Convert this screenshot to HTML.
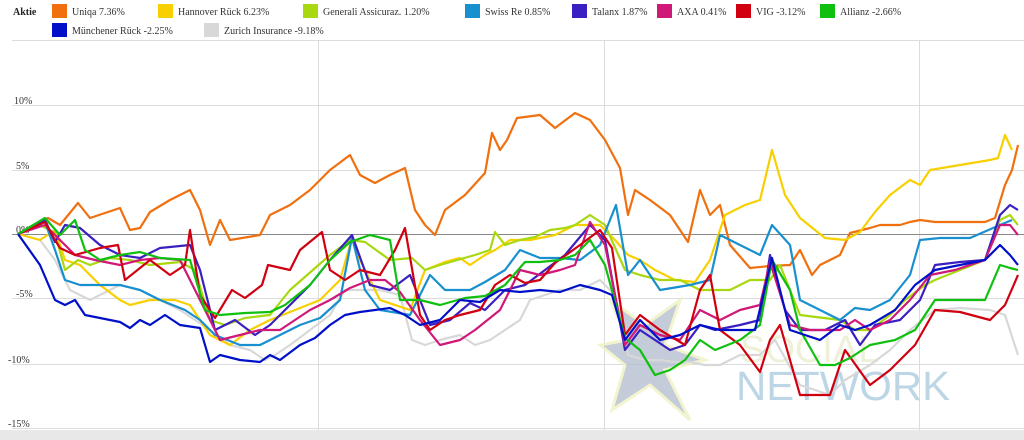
<!DOCTYPE html>
<html><head><meta charset="utf-8"><style>
html,body{margin:0;padding:0;background:#fff;width:1024px;height:440px;overflow:hidden}
</style></head><body>
<svg width="1024" height="440" xmlns="http://www.w3.org/2000/svg" style="font-family:'Liberation Serif',serif">
<rect x="0" y="430" width="1024" height="10" fill="#e8e8e8"/>
<g stroke="#dcdcdc" stroke-width="1">
<line x1="12" y1="40.5" x2="1024" y2="40.5"/>
<line x1="12" y1="105.5" x2="1024" y2="105.5"/>
<line x1="12" y1="170.5" x2="1024" y2="170.5"/>
<line x1="12" y1="298.5" x2="1024" y2="298.5"/>
<line x1="12" y1="364.5" x2="1024" y2="364.5"/>
<line x1="12" y1="428.5" x2="1024" y2="428.5"/>
<line x1="318.5" y1="40" x2="318.5" y2="430"/>
<line x1="604.5" y1="40" x2="604.5" y2="430"/>
<line x1="919.5" y1="40" x2="919.5" y2="430"/>
</g>
<line x1="12" y1="234.5" x2="1024" y2="234.5" stroke="#888" stroke-width="1"/>
<g font-size="10" fill="#333">
<text x="14" y="104">10%</text><text x="16" y="169">5%</text><text x="16" y="233">0%</text>
<text x="16" y="297">-5%</text><text x="8" y="363">-10%</text><text x="8" y="427">-15%</text>
</g>
<!-- watermark -->
<polygon points="610,300 645,325 680,300 665,345 705,360 665,370 690,420 650,385 612,410 625,365 600,345 628,340" fill="#b0bccc" stroke="#eef0c0" stroke-width="3" opacity="0.75"/>
<text x="736" y="400" font-family="Liberation Sans,sans-serif" font-size="41" fill="#bcd6e6" textLength="214" lengthAdjust="spacingAndGlyphs">NETWORK</text>
<text x="740" y="362" font-family="Liberation Sans,sans-serif" font-size="38" fill="#e8ecc8" opacity="0.7">SOCIAL</text>
<g fill="none" stroke-width="2.2" stroke-linejoin="round">
<polyline stroke="#d8d8d8" points="18,234 40,240 55,260 70,290 90,300 120,285 140,290 160,300 180,310 210,330 230,345 250,350 265,360 275,355 290,345 310,330 330,315 345,290 360,290 380,290 400,295 412,340 425,345 440,340 460,335 475,345 490,340 505,330 520,320 530,300 545,295 560,290 580,290 600,280 615,295 628,355 645,360 660,360 675,362 690,362 705,365 720,365 740,355 760,355 775,340 800,385 830,395 845,380 870,365 890,350 910,330 935,310 960,308 990,310 1005,315 1018,355"/>
<polyline stroke="#f07010" points="18,234 48,218 60,225 78,203 90,218 120,208 130,230 140,228 150,212 170,200 190,190 200,210 210,245 220,220 230,240 260,235 270,215 290,205 310,190 330,170 350,155 360,175 375,183 390,175 405,168 415,210 425,225 435,235 445,210 465,195 485,173 492,133 500,150 507,140 517,118 540,115 555,128 575,113 590,120 605,140 620,168 628,215 635,190 650,200 670,215 688,242 700,190 710,215 720,205 730,245 750,268 770,266 790,265 800,250 812,275 820,265 840,255 850,233 870,228 880,225 890,225 900,225 910,222 920,220 935,222 970,222 985,222 995,218 1005,185 1012,170 1018,145"/>
<polyline stroke="#f8d000" points="18,234 40,240 55,230 65,260 80,265 100,285 120,300 130,305 150,300 175,300 190,305 210,335 230,345 250,330 270,320 295,310 320,300 340,280 352,238 360,260 380,300 410,310 425,270 445,262 460,258 470,265 485,255 495,250 510,240 530,240 555,235 575,225 600,225 615,240 628,255 640,260 655,270 675,280 695,282 710,260 725,215 745,205 760,200 772,150 785,195 800,218 825,238 845,240 860,232 875,212 890,195 910,180 920,185 930,170 960,165 990,160 998,158 1005,135 1012,150"/>
<polyline stroke="#a8d810" points="18,234 40,225 55,233 65,270 78,260 90,265 110,258 130,260 150,265 180,262 195,270 210,320 225,325 245,318 270,315 290,290 330,255 350,240 365,242 390,260 412,258 425,270 440,265 475,255 490,250 495,232 505,245 520,240 535,237 550,230 565,228 575,225 590,215 605,225 625,270 640,275 660,280 680,280 700,290 715,290 730,290 750,280 770,280 780,265 800,315 840,320 855,330 870,330 890,315 905,300 925,285 935,280 960,270 985,260 1000,220 1010,215 1018,225"/>
<polyline stroke="#1890d0" points="18,234 45,222 55,250 65,280 80,285 100,285 120,285 140,290 160,300 185,310 200,320 215,335 240,345 260,345 280,335 300,325 320,318 340,300 352,237 365,290 380,310 410,315 430,275 445,290 470,290 485,282 505,270 520,250 540,258 560,258 580,260 600,245 616,205 628,275 640,260 660,290 690,285 710,280 720,235 740,245 760,255 772,225 790,245 800,300 820,310 840,320 855,308 870,310 890,300 910,275 920,240 940,238 970,238 1000,225 1012,220"/>
<polyline stroke="#3a20c0" points="18,234 45,220 55,242 65,225 80,228 100,245 120,255 140,258 160,248 190,245 200,270 215,330 235,320 255,335 270,325 290,305 310,285 330,260 352,235 370,285 390,290 410,275 430,325 450,320 470,303 485,310 505,290 525,285 545,270 565,255 590,225 605,240 625,350 640,330 655,340 670,350 685,345 700,325 715,330 740,325 760,320 770,255 785,310 800,330 825,330 845,320 860,345 875,325 900,320 920,300 935,265 960,262 985,260 1000,215 1010,205 1018,210"/>
<polyline stroke="#d01878" points="18,234 45,225 60,240 75,255 95,260 120,265 140,260 160,258 180,260 200,300 220,340 240,335 260,330 280,330 310,310 330,300 350,288 370,280 385,280 400,292 420,320 440,345 460,340 475,330 500,310 520,270 540,275 560,270 575,265 590,222 605,245 625,345 640,325 660,335 680,340 700,310 720,320 740,310 760,305 770,262 790,325 810,330 840,330 855,320 870,330 890,320 910,300 930,275 955,270 985,260 1000,225 1010,225 1018,235"/>
<polyline stroke="#d00010" points="18,234 45,222 55,240 60,248 75,255 100,248 118,245 125,280 140,268 150,260 170,275 185,265 190,230 200,295 215,318 232,290 245,298 262,285 268,265 290,270 300,250 322,232 330,270 345,280 360,270 380,275 395,250 405,228 420,315 430,330 445,320 460,315 480,310 495,285 510,275 525,283 540,280 555,263 580,245 600,230 612,248 625,335 640,315 660,330 685,345 700,290 710,275 720,330 740,345 760,372 770,340 780,325 800,395 815,395 830,395 845,350 870,385 890,370 915,345 935,310 960,312 990,320 1005,305 1018,275"/>
<polyline stroke="#10c010" points="18,234 45,218 60,235 75,220 85,250 100,260 120,255 140,252 160,258 190,260 205,310 220,315 245,313 270,312 285,305 310,285 330,260 350,242 370,235 390,240 400,300 420,300 440,305 465,298 485,296 505,285 525,262 540,262 560,260 575,255 590,240 605,265 625,338 640,350 655,375 670,370 685,360 700,340 715,350 740,340 760,325 772,260 790,290 800,330 820,365 835,365 850,358 870,345 895,340 915,330 935,300 960,300 985,300 1000,265 1010,268 1018,270"/>
<polyline stroke="#0010c8" points="18,234 40,265 55,300 65,305 75,300 85,315 100,318 120,322 130,328 140,320 150,325 165,315 180,325 200,328 210,362 220,355 240,360 260,362 270,355 280,360 300,345 315,338 330,325 345,315 360,312 375,310 390,308 405,315 420,325 440,320 460,300 480,302 500,290 520,292 540,290 560,292 580,285 600,290 612,295 625,340 640,320 660,340 680,335 700,325 720,330 740,330 755,330 772,258 790,330 820,340 840,325 855,330 870,325 895,310 915,285 935,270 960,265 985,260 1000,245 1010,255 1018,265"/>
</g>
<g font-size="10" fill="#333">
<text x="13" y="15" font-weight="bold" fill="#222">Aktie</text>
<rect x="52" y="4" width="15" height="14" fill="#f07010"/><text x="72" y="15">Uniqa  7.36%</text>
<rect x="158" y="4" width="15" height="14" fill="#f8d000"/><text x="178" y="15">Hannover Rück  6.23%</text>
<rect x="303" y="4" width="15" height="14" fill="#a8d810"/><text x="323" y="15">Generali Assicuraz.  1.20%</text>
<rect x="465" y="4" width="15" height="14" fill="#1890d0"/><text x="485" y="15">Swiss Re  0.85%</text>
<rect x="572" y="4" width="15" height="14" fill="#3a20c0"/><text x="592" y="15">Talanx  1.87%</text>
<rect x="657" y="4" width="15" height="14" fill="#d01878"/><text x="677" y="15">AXA  0.41%</text>
<rect x="736" y="4" width="15" height="14" fill="#d00010"/><text x="756" y="15">VIG  -3.12%</text>
<rect x="820" y="4" width="15" height="14" fill="#10c010"/><text x="840" y="15">Allianz  -2.66%</text>
<rect x="52" y="23" width="15" height="14" fill="#0010c8"/><text x="72" y="34">Münchener Rück  -2.25%</text>
<rect x="204" y="23" width="15" height="14" fill="#d8d8d8"/><text x="224" y="34">Zurich Insurance  -9.18%</text>
</g>
</svg>
</body></html>
